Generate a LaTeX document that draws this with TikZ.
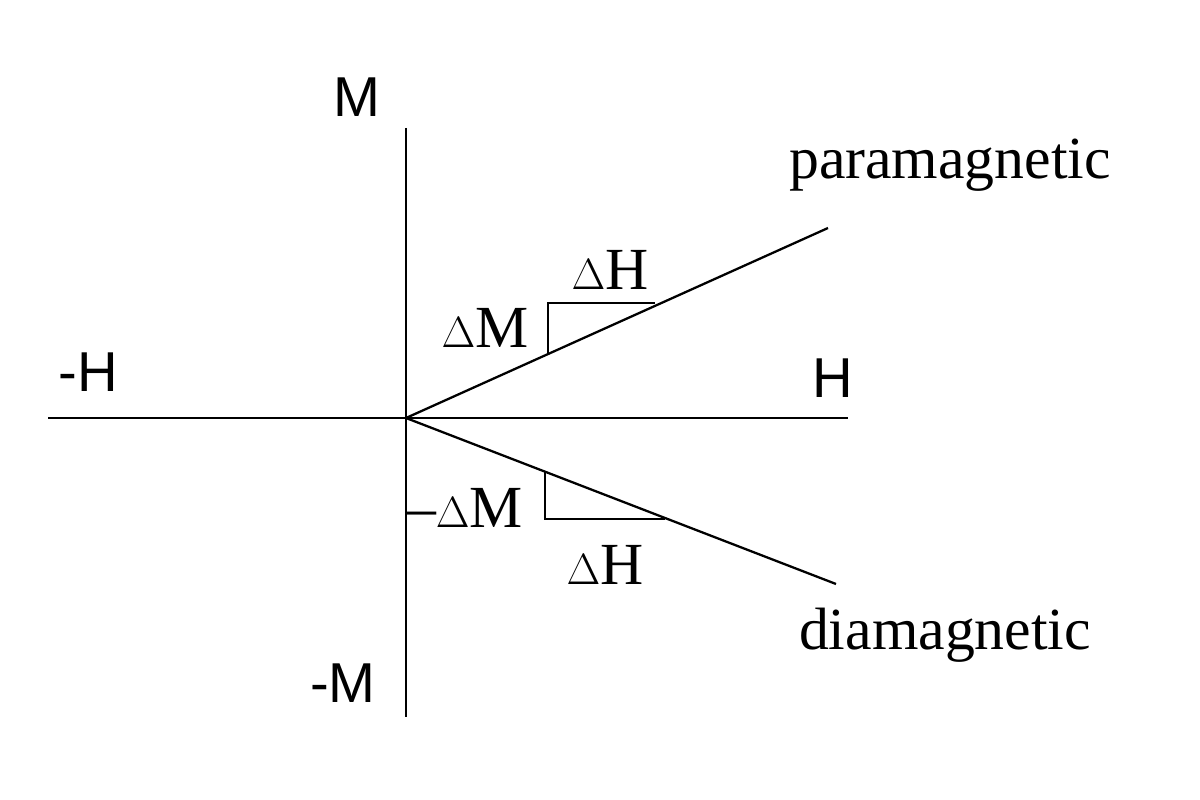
\documentclass[tikz,border=0pt]{standalone}
\usepackage{fontspec}
\setmainfont{Liberation Serif}
\newfontfamily\axf{Liberation Sans}
\begin{document}
\begin{tikzpicture}[x=0.02cm,y=-0.02cm,
  ln/.style={line width=1.3pt},
  sl/.style={font=\fontsize{34}{40}\selectfont},
  al/.style={font=\axf\fontsize{32}{38}\selectfont}]
\useasboundingbox (0,0) rectangle (1200,800);
\coordinate (vt) at (406,128); \coordinate (vb) at (406,717);
\coordinate (hl) at (48,418); \coordinate (hr) at (848,418);
\coordinate (o) at (406,418);
\coordinate (pe) at (828,228); \coordinate (de) at (836,584);
\draw[ln] (vt)--(vb); \draw[ln] (hl)--(hr);
\draw[ln] (o)--(pe); \draw[ln] (o)--(de);
\coordinate (p1) at (548,354); \coordinate (p2) at (548,303); \coordinate (p3) at (655,303);
\draw[ln] (p1)--(p2)--(p3);
\coordinate (d1) at (545,472); \coordinate (d2) at (545,519); \coordinate (d3) at (665,519);
\draw[ln] (d1)--(d2)--(d3);
\node[al] (M) at (357,97) {M};
\node[al] (mH) at (88,372) {-H};
\node[al] (H) at (833,378) {H};
\node[al] (mM) at (343,683) {-M};
\node[sl] (para) at (950,165) {paramagnetic};
\node[sl] (dia) at (945,635) {diamagnetic};
\node[sl] (dh1) at (610,270) {$\Delta$H};
\node[sl] (dm1) at (485,328) {$\Delta$M};
\node[sl] (dm2) at (468,508) {\hspace{-4pt}--$\Delta$M};
\node[sl] (dh2) at (605,565) {$\Delta$H};
\end{tikzpicture}
\end{document}
